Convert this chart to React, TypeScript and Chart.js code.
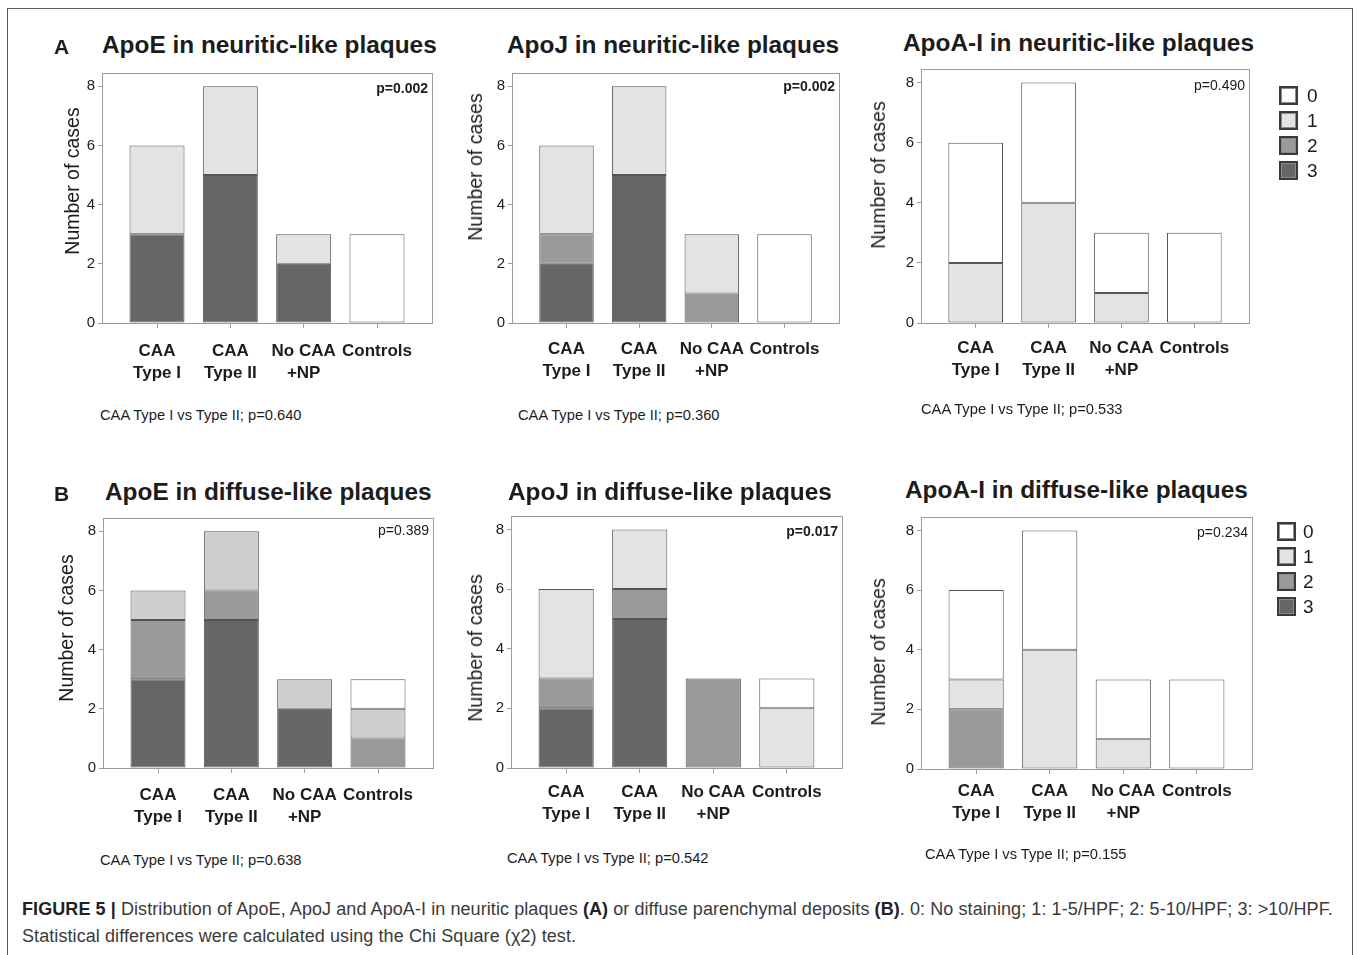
import React, { useEffect, useRef } from "react";
import { Chart, registerables } from "chart.js";

Chart.register(...registerables);

// Groups on the x axis (multi-line tick labels)
const categoryLabels: string[][] = [["CAA", "Type I"], ["CAA", "Type II"], ["No CAA", "+NP"], ["Controls"]];
// Y axis tick values
const yTicks = [0, 2, 4, 6, 8];
// Staining levels: 0 none, 1 1-5/HPF, 2 5-10/HPF, 3 >10/HPF
const stainLevels = ["0", "1", "2", "3"];
const levelColors = ["#ffffff", "#e3e3e3", "#9a9a9a", "#666666"];
const levelColorsAlt = ["#ffffff", "#cfcfcf", "#9a9a9a", "#666666"];

// ApoE in neuritic-like plaques (cases per staining level)
const apoENeuritic0 = [0, 0, 0, 3];
const apoENeuritic1 = [3, 3, 1, 0];
const apoENeuritic2 = [0, 0, 0, 0];
const apoENeuritic3 = [3, 5, 2, 0];

// ApoJ in neuritic-like plaques
const apoJNeuritic0 = [0, 0, 0, 3];
const apoJNeuritic1 = [3, 3, 2, 0];
const apoJNeuritic2 = [1, 0, 1, 0];
const apoJNeuritic3 = [2, 5, 0, 0];

// ApoA-I in neuritic-like plaques
const apoAINeuritic0 = [4, 4, 2, 3];
const apoAINeuritic1 = [2, 4, 1, 0];
const apoAINeuritic2 = [0, 0, 0, 0];
const apoAINeuritic3 = [0, 0, 0, 0];

// ApoE in diffuse-like plaques
const apoEDiffuse0 = [0, 0, 0, 1];
const apoEDiffuse1 = [1, 2, 1, 1];
const apoEDiffuse2 = [2, 1, 0, 1];
const apoEDiffuse3 = [3, 5, 2, 0];

// ApoJ in diffuse-like plaques
const apoJDiffuse0 = [0, 0, 0, 1];
const apoJDiffuse1 = [3, 2, 0, 2];
const apoJDiffuse2 = [1, 1, 3, 0];
const apoJDiffuse3 = [2, 5, 0, 0];

// ApoA-I in diffuse-like plaques
const apoAIDiffuse0 = [3, 4, 2, 3];
const apoAIDiffuse1 = [1, 4, 1, 0];
const apoAIDiffuse2 = [2, 0, 0, 0];
const apoAIDiffuse3 = [0, 0, 0, 0];

const FONT = "'Liberation Sans', Arial, Helvetica, sans-serif";
const AXIS = "#9c9c9c";
const TEXT = "#1c1c1c";
const BAR_EDGE = "#555555";
const YW = 60;
const PAD = 10;
const XH = 80;

type PanelDef = {
  title: string;
  pValue: string;
  pBold: boolean;
  comparison: string;
  levels: number[][];
  colors: string[];
  axisX: number;
  plotRight: number;
  plotTop: number;
  zeroY: number;
  xPad: number;
  titleX: number;
  titleBase: number;
  pBase: number;
  compX: number;
  compBase: number;
  yTitleX: number;
  yTitleY: number;
};

const panels: PanelDef[] = [
  {
    title: "ApoE in neuritic-like plaques", pValue: "p=0.002", pBold: true,
    comparison: "CAA Type I vs Type II; p=0.640",
    levels: [apoENeuritic0, apoENeuritic1, apoENeuritic2, apoENeuritic3], colors: levelColors,
    axisX: 102, plotRight: 432, plotTop: 71, zeroY: 323, xPad: 12,
    titleX: 102, titleBase: 53.5, pBase: 93, compX: 100, compBase: 420.5, yTitleX: 72, yTitleY: 181,
  },
  {
    title: "ApoJ in neuritic-like plaques", pValue: "p=0.002", pBold: true,
    comparison: "CAA Type I vs Type II; p=0.360",
    levels: [apoJNeuritic0, apoJNeuritic1, apoJNeuritic2, apoJNeuritic3], colors: levelColors,
    axisX: 512, plotRight: 839, plotTop: 71, zeroY: 323, xPad: 10,
    titleX: 507, titleBase: 53.5, pBase: 91, compX: 518, compBase: 420.5, yTitleX: 475, yTitleY: 167,
  },
  {
    title: "ApoA-I in neuritic-like plaques", pValue: "p=0.490", pBold: false,
    comparison: "CAA Type I vs Type II; p=0.533",
    levels: [apoAINeuritic0, apoAINeuritic1, apoAINeuritic2, apoAINeuritic3], colors: levelColors,
    axisX: 921, plotRight: 1249, plotTop: 67, zeroY: 323, xPad: 9,
    titleX: 903, titleBase: 52, pBase: 90, compX: 921, compBase: 414, yTitleX: 878, yTitleY: 175,
  },
  {
    title: "ApoE in diffuse-like plaques", pValue: "p=0.389", pBold: false,
    comparison: "CAA Type I vs Type II; p=0.638",
    levels: [apoEDiffuse0, apoEDiffuse1, apoEDiffuse2, apoEDiffuse3], colors: levelColorsAlt,
    axisX: 103, plotRight: 433, plotTop: 516, zeroY: 768, xPad: 11,
    titleX: 105, titleBase: 500.5, pBase: 535, compX: 100, compBase: 865.5, yTitleX: 66, yTitleY: 628,
  },
  {
    title: "ApoJ in diffuse-like plaques", pValue: "p=0.017", pBold: true,
    comparison: "CAA Type I vs Type II; p=0.542",
    levels: [apoJDiffuse0, apoJDiffuse1, apoJDiffuse2, apoJDiffuse3], colors: levelColors,
    axisX: 511, plotRight: 842, plotTop: 514, zeroY: 768, xPad: 8,
    titleX: 508, titleBase: 500.5, pBase: 536, compX: 507, compBase: 863, yTitleX: 475, yTitleY: 648,
  },
  {
    title: "ApoA-I in diffuse-like plaques", pValue: "p=0.234", pBold: false,
    comparison: "CAA Type I vs Type II; p=0.155",
    levels: [apoAIDiffuse0, apoAIDiffuse1, apoAIDiffuse2, apoAIDiffuse3], colors: levelColors,
    axisX: 921, plotRight: 1252, plotTop: 515, zeroY: 769, xPad: 6,
    titleX: 905, titleBase: 499, pBase: 537, compX: 925, compBase: 859, yTitleX: 878, yTitleY: 652,
  },
];

// Thin box around the plotting area, drawn under the bars
const plotFrame = {
  id: "plotFrame",
  beforeDatasetsDraw(chart: any) {
    const { ctx, chartArea } = chart;
    const l = Math.round(chartArea.left) + 0.5;
    const t = Math.round(chartArea.top) + 0.5;
    const r = Math.round(chartArea.right) + 0.5;
    const b = Math.round(chartArea.bottom) + 0.5;
    ctx.save();
    ctx.strokeStyle = AXIS;
    ctx.lineWidth = 1;
    ctx.strokeRect(l, t, r - l, b - t);
    ctx.restore();
  },
};

function StackedPanel({ p }: { p: PanelDef }) {
  const ref = useRef<HTMLCanvasElement>(null);
  const width = YW + (p.plotRight - p.axisX) + PAD;
  const height = PAD + (p.zeroY - p.plotTop) + XH;

  useEffect(() => {
    if (!ref.current) return;
    // bottom-most segment first: level 3, then 2, 1, 0 (empty segments are skipped)
    const datasets = [3, 2, 1, 0].map((k) => ({
      label: stainLevels[k],
      data: p.levels[k].map((v, i) => ({ x: i, y: v > 0 ? v : null })),
      backgroundColor: p.colors[k],
      borderColor: BAR_EDGE,
      borderWidth: 1,
      borderSkipped: false as const,
      barPercentage: 0.75,
      categoryPercentage: 1,
    }));
    const chart = new Chart(ref.current, {
      type: "bar",
      data: { datasets },
      options: {
        animation: false,
        responsive: false,
        maintainAspectRatio: false,
        layout: { padding: { top: PAD, right: PAD, left: 0, bottom: 0 } },
        plugins: { legend: { display: false }, tooltip: { enabled: false } },
        scales: {
          x: {
            type: "linear",
            stacked: true,
            offset: false,
            min: -0.75,
            max: 3.75,
            afterBuildTicks: (s: any) => {
              s.ticks = categoryLabels.map((_, i) => ({ value: i }));
            },
            afterFit: (s: any) => {
              s.height = XH;
            },
            grid: { display: true, offset: false, drawOnChartArea: false, drawTicks: true, tickLength: 5, color: AXIS },
            border: { display: true, color: AXIS },
            ticks: {
              callback: (v: any) => categoryLabels[v as number],
              font: { family: FONT, size: 17, weight: "bold", lineHeight: 1.32 },
              color: TEXT,
              padding: p.xPad,
              maxRotation: 0,
              minRotation: 0,
              autoSkip: false,
            },
          },
          y: {
            type: "linear",
            stacked: true,
            min: 0,
            max: 8.45,
            afterBuildTicks: (s: any) => {
              s.ticks = yTicks.map((v) => ({ value: v }));
            },
            afterFit: (s: any) => {
              s.width = YW;
            },
            grid: { display: true, drawOnChartArea: false, drawTicks: true, tickLength: 4, color: AXIS },
            border: { display: true, color: AXIS },
            ticks: { font: { family: FONT, size: 15 }, color: TEXT, padding: 3 },
          },
        },
      } as any,
      plugins: [plotFrame],
    });
    return () => chart.destroy();
  }, [p]);

  return (
    <canvas
      ref={ref}
      width={width}
      height={height}
      style={{ position: "absolute", left: p.axisX - YW, top: p.plotTop - PAD, width, height }}
    />
  );
}

// Text placed by its left edge and baseline
function Label(props: { x: number; base: number; size: number; bold?: boolean; children: React.ReactNode; color?: string }) {
  const { x, base, size, bold, children, color } = props;
  return (
    <div
      style={{
        position: "absolute",
        left: x,
        top: base - 0.8465 * size,
        fontFamily: FONT,
        fontSize: size,
        lineHeight: `${size}px`,
        fontWeight: bold ? 700 : 400,
        color: color ?? TEXT,
        whiteSpace: "nowrap",
      }}
    >
      {children}
    </div>
  );
}

// Text placed by its right edge and baseline
function RightLabel(props: { right: number; base: number; size: number; bold?: boolean; children: React.ReactNode }) {
  const { right, base, size, bold, children } = props;
  return (
    <div
      style={{
        position: "absolute",
        left: right - 200,
        width: 200,
        textAlign: "right",
        top: base - 0.8465 * size,
        fontFamily: FONT,
        fontSize: size,
        lineHeight: `${size}px`,
        fontWeight: bold ? 700 : 400,
        color: TEXT,
        whiteSpace: "nowrap",
      }}
    >
      {children}
    </div>
  );
}

function YTitle({ x, y }: { x: number; y: number }) {
  return (
    <div
      style={{
        position: "absolute",
        left: x,
        top: y,
        transform: "translate(-50%, -50%) rotate(-90deg)",
        fontFamily: FONT,
        fontSize: 19.5,
        lineHeight: "20px",
        color: TEXT,
        whiteSpace: "nowrap",
      }}
    >
      Number of cases
    </div>
  );
}

function LevelLegend({ boxX, firstY, labelX }: { boxX: number; firstY: number; labelX: number }) {
  return (
    <>
      {stainLevels.map((lv, i) => (
        <React.Fragment key={lv}>
          <div
            style={{
              position: "absolute",
              left: boxX,
              top: firstY + i * 25 - 9.5,
              width: 15,
              height: 15,
              background: levelColors[i],
              border: "2px solid #3a3a3a",
              boxShadow: "inset 0 0 0 1px #8a8a8a",
            }}
          />
          <div
            style={{
              position: "absolute",
              left: labelX,
              top: firstY + i * 25 - 11,
              fontFamily: FONT,
              fontSize: 19,
              lineHeight: "22px",
              color: TEXT,
            }}
          >
            {lv}
          </div>
        </React.Fragment>
      ))}
    </>
  );
}

export default function App() {
  return (
    <div style={{ position: "absolute", left: 0, top: 0, width: 1358, height: 955, background: "#ffffff", overflow: "hidden" }}>
      <div style={{ position: "absolute", left: 7, top: 8, width: 1344, height: 960, border: "1px solid #5a5a5a" }} />

      {panels.map((p, i) => (
        <React.Fragment key={i}>
          <StackedPanel p={p} />
          <Label x={p.titleX} base={p.titleBase} size={24.4} bold>
            {p.title}
          </Label>
          <RightLabel right={p.plotRight - 4} base={p.pBase} size={14} bold={p.pBold}>
            {p.pValue}
          </RightLabel>
          <Label x={p.compX} base={p.compBase} size={14.7}>
            {p.comparison}
          </Label>
          <YTitle x={p.yTitleX} y={p.yTitleY} />
        </React.Fragment>
      ))}

      <Label x={54} base={53.5} size={21} bold>
        A
      </Label>
      <Label x={54} base={500.5} size={21} bold>
        B
      </Label>

      <LevelLegend boxX={1279} firstY={95.5} labelX={1307} />
      <LevelLegend boxX={1277} firstY={531.5} labelX={1303} />

      <div
        style={{
          position: "absolute",
          left: 22,
          top: 896,
          fontFamily: FONT,
          fontSize: 18,
          lineHeight: "27px",
          letterSpacing: "0.08px",
          color: "#3a3a3a",
          whiteSpace: "nowrap",
        }}
      >
        <b style={{ color: "#222" }}>FIGURE 5 |</b> Distribution of ApoE, ApoJ and ApoA-I in neuritic plaques{" "}
        <b style={{ color: "#222" }}>(A)</b> or diffuse parenchymal deposits <b style={{ color: "#222" }}>(B)</b>. 0: No
        staining; 1: 1-5/HPF; 2: 5-10/HPF; 3: &gt;10/HPF.
        <br />
        Statistical differences were calculated using the Chi Square (χ2) test.
      </div>
    </div>
  );
}
